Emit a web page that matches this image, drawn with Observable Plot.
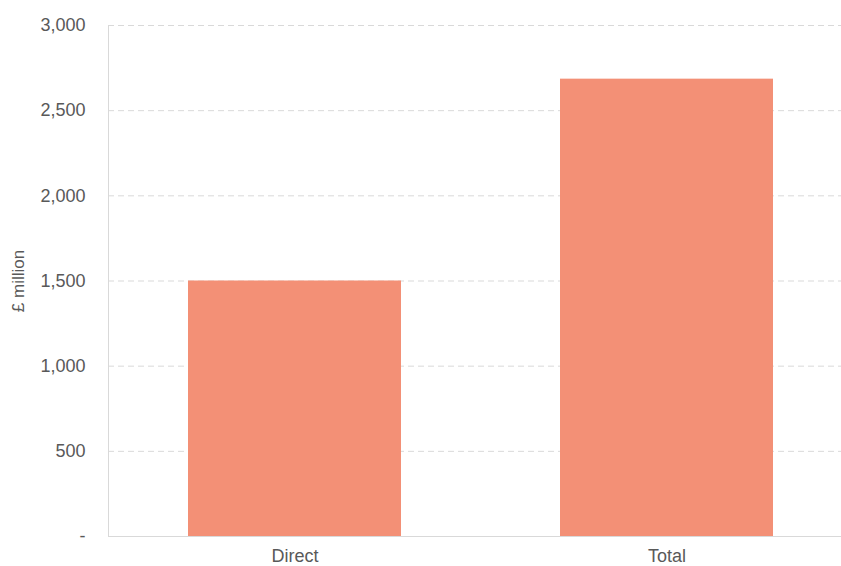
<!DOCTYPE html>
<html><head><meta charset="utf-8">
<script src="https://cdn.jsdelivr.net/npm/d3@7"></script>
<script src="https://cdn.jsdelivr.net/npm/@observablehq/plot@0.6"></script>
<style>body{margin:0;background:#fff;} svg{display:block;}</style>
</head><body><div id="chart"></div>
<script>
const categories = ["Direct", "Total"];
const values = [1500, 2685];
const yTicks = [0, 500, 1000, 1500, 2000, 2500, 3000];
const data = categories.map((c, i) => ({category: c, value: values[i]}));
const fmt = v => v === 0 ? "-" : d3.format(",")(v);
const chart = Plot.plot({
  width: 841, height: 566,
  marginTop: 25, marginBottom: 30, marginLeft: 108, marginRight: 0,
  style: {fontFamily: "'Liberation Sans', Arial, sans-serif", fontSize: "18px", color: "#595959", background: "#fff"},
  x: {domain: categories, range: [109, 853], paddingInner: 0.427, paddingOuter: 0.2135, align: 0.5, label: null},
  y: {domain: [0, 3000], ticks: yTicks, label: null},
  marks: [
    Plot.ruleY(yTicks.filter(t => t > 0), {stroke: "#d9d9d9", strokeDasharray: "6,4"}),
    Plot.barY(data, {x: "category", y: "value", fill: "#F39076"}),
    Plot.frame({anchor: "left", stroke: "#d9d9d9"}),
    Plot.axisY({ticks: yTicks, tickSize: 0, tickPadding: 23, tickFormat: fmt, fill: "#595959", fontSize: 18, label: null}),
    Plot.axisX({tickSize: 0, tickPadding: 13, fill: "#595959", fontSize: 18, label: null}),
    Plot.ruleY([0], {stroke: "#d9d9d9"}),
    Plot.text(["£ million"], {frameAnchor: "left", dx: -90, rotate: -90, textAnchor: "middle", fill: "#595959", fontSize: 17})
  ]
});
document.getElementById("chart").append(chart);
</script></body></html>
